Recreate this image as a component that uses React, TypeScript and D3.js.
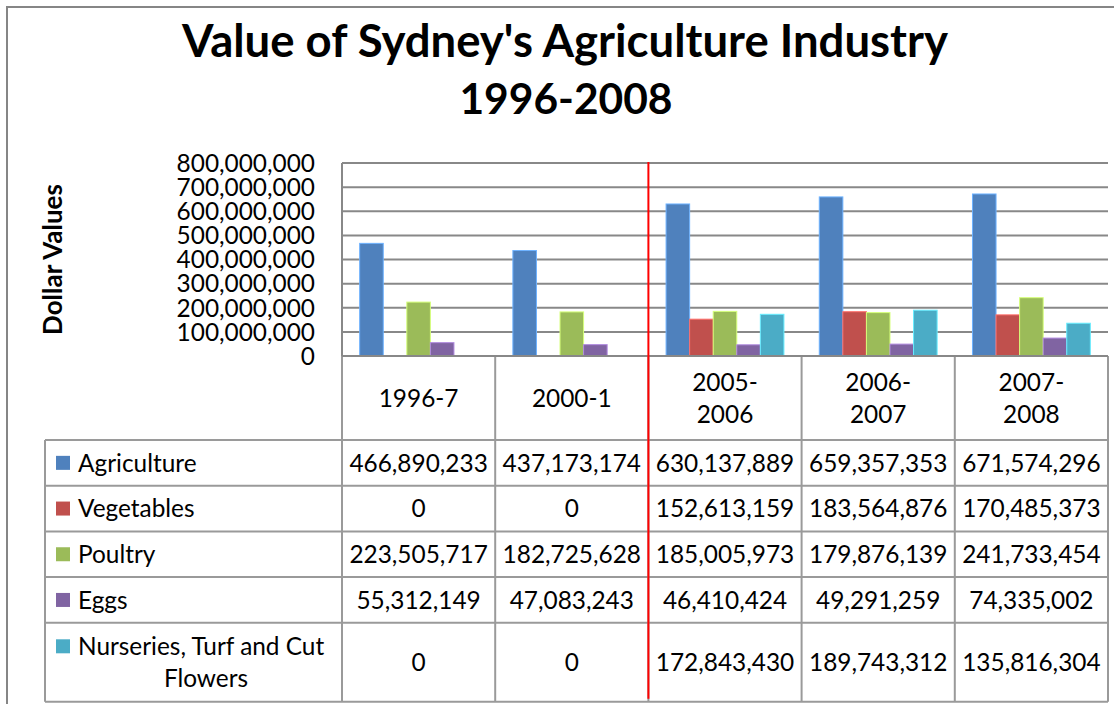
import * as d3 from "d3";

// categories shown in the header row of the data table
const categories = ["1996-7", "2000-1", "2005-2006", "2006-2007", "2007-2008"];

const seriesNames = [
  "Agriculture",
  "Vegetables",
  "Poultry",
  "Eggs",
  "Nurseries, Turf and Cut Flowers",
];

const agriculture = [466890233, 437173174, 630137889, 659357353, 671574296];
const vegetables = [0, 0, 152613159, 183564876, 170485373];
const poultry = [223505717, 182725628, 185005973, 179876139, 241733454];
const eggs = [55312149, 47083243, 46410424, 49291259, 74335002];
const nurseries = [0, 0, 172843430, 189743312, 135816304];

const yTicks = [0, 100000000, 200000000, 300000000, 400000000, 500000000, 600000000, 700000000, 800000000];

const seriesValues = [agriculture, vegetables, poultry, eggs, nurseries];
const colors = ["#4F81BD", "#C0504D", "#9BBB59", "#8064A2", "#4BACC6"];

const W = 1114;
const H = 704;
const FONT = "Lato, 'Open Sans', sans-serif";
const GRID = "#888888";
const TABLE = "#9a9a9a";

const plotLeft = 342;
const plotRight = 1108;
const plotTop = 163;
const plotBottom = 356;
const tableLeft = 45;
const headerBottom = 440;
const rowH = 45.7;
const lastRowH = 79;

export default function App() {
  const x = d3.scaleBand<string>().domain(categories).range([plotLeft, plotRight]);
  const inner = d3
    .scaleBand<string>()
    .domain(seriesNames)
    .range([0, x.bandwidth()])
    .paddingInner(0)
    .paddingOuter(0.75);
  const y = d3.scaleLinear().domain([0, 800000000]).range([plotBottom, plotTop]);
  const fmt = d3.format(",");

  // row tops of the table body
  const rowTops = seriesNames.map((_, i) => headerBottom + i * rowH);
  const tableBottom = headerBottom + (seriesNames.length - 1) * rowH + lastRowH;
  const rowMid = (i: number) =>
    i === seriesNames.length - 1 ? rowTops[i] + lastRowH / 2 : rowTops[i] + rowH / 2;

  const redX = x(categories[2])!;

  return (
    <svg
      width={W}
      height={H}
      style={{ position: "absolute", left: 0, top: 0, display: "block", background: "#fff" }}
      fontFamily={FONT}
    >
      {/* chart border */}
      <rect x={7} y={7} width={W + 10} height={H + 10} fill="#fff" stroke="#868686" strokeWidth={2} />

      {/* title */}
      <text x={565} y={57} textAnchor="middle" fontSize={45.5} fontWeight={700} fill="#000">
        Value of Sydney's Agriculture Industry
      </text>
      <text x={566} y={114} textAnchor="middle" fontSize={42.5} fontWeight={700} fill="#000">
        1996-2008
      </text>

      {/* y axis title */}
      <text
        transform={`translate(53, ${(plotTop + plotBottom) / 2}) rotate(-90)`}
        textAnchor="middle"
        dy="0.35em"
        fontSize={26}
        fontWeight={700}
        fill="#000"
      >
        Dollar Values
      </text>

      {/* gridlines */}
      {yTicks.map((t) => (
        <line key={t} x1={plotLeft} x2={plotRight} y1={y(t)} y2={y(t)} stroke={GRID} strokeWidth={2} />
      ))}
      <line x1={plotLeft} x2={plotLeft} y1={plotTop} y2={plotBottom} stroke={GRID} strokeWidth={2} />

      {/* tick labels */}
      {yTicks.map((t) => (
        <text key={t} x={315} y={y(t)} dy="0.36em" textAnchor="end" fontSize={24.4} fill="#000">
          {fmt(t)}
        </text>
      ))}

      {/* bars */}
      {seriesValues.map((vals, si) =>
        vals.map((v, ci) => {
          const bx = x(categories[ci])! + inner(seriesNames[si])!;
          return (
            <rect
              key={`${si}-${ci}`}
              x={bx}
              y={y(v)}
              width={inner.bandwidth()}
              height={plotBottom - y(v)}
              fill={colors[si]}
              stroke={d3.color(colors[si])!.brighter(0.9).formatHex()}
              strokeWidth={v > 0 ? 1 : 0}
            />
          );
        })
      )}

      {/* data table lines */}
      {[...categories.map((c) => x(c)!), plotRight].map((vx, i) => (
        <line key={`v${i}`} x1={vx} x2={vx} y1={plotBottom} y2={tableBottom} stroke={TABLE} strokeWidth={2} />
      ))}
      <line x1={tableLeft} x2={tableLeft} y1={headerBottom} y2={tableBottom} stroke={TABLE} strokeWidth={2} />
      <line x1={plotLeft} x2={plotRight} y1={plotBottom} y2={plotBottom} stroke={GRID} strokeWidth={2} />
      {[...rowTops, tableBottom].map((ry, i) => (
        <line key={`h${i}`} x1={tableLeft} x2={plotRight} y1={ry} y2={ry} stroke={TABLE} strokeWidth={2} />
      ))}

      {/* category header */}
      {categories.map((c) => {
        const cx = x(c)! + x.bandwidth() / 2;
        const mid = (plotBottom + headerBottom) / 2;
        const lines = c.length > 7 ? [c.slice(0, c.indexOf("-") + 1), c.slice(c.indexOf("-") + 1)] : [c];
        return lines.map((ln, li) => (
          <text
            key={c + li}
            x={cx}
            y={mid + (li - (lines.length - 1) / 2) * 32}
            dy="0.36em"
            textAnchor="middle"
            fontSize={24.4}
            fill="#000"
          >
            {ln}
          </text>
        ));
      })}

      {/* legend column */}
      {seriesNames.map((name, si) => {
        const my = rowMid(si);
        const wrap = name.length > 24;
        const first = wrap ? name.slice(0, name.lastIndexOf(" ")) : name;
        const second = wrap ? name.slice(name.lastIndexOf(" ") + 1) : "";
        const ly = wrap ? my - 16 : my;
        return (
          <g key={name}>
            <rect x={56} y={ly - 7} width={14} height={14} fill={colors[si]} />
            <text x={78} y={ly} dy="0.36em" fontSize={24.4} fill="#000">
              {first}
            </text>
            {wrap && (
              <text x={206} y={my + 16} dy="0.36em" textAnchor="middle" fontSize={24.4} fill="#000">
                {second}
              </text>
            )}
          </g>
        );
      })}

      {/* values */}
      {seriesValues.map((vals, si) =>
        vals.map((v, ci) => (
          <text
            key={`t${si}-${ci}`}
            x={x(categories[ci])! + x.bandwidth() / 2}
            y={rowMid(si)}
            dy="0.36em"
            textAnchor="middle"
            fontSize={24.4}
            fill="#000"
          >
            {fmt(v)}
          </text>
        ))
      )}

      {/* red divider between old and new series */}
      <line x1={redX} x2={redX} y1={plotTop - 1} y2={tableBottom - 3} stroke="#ff0000" strokeWidth={2} />
    </svg>
  );
}
